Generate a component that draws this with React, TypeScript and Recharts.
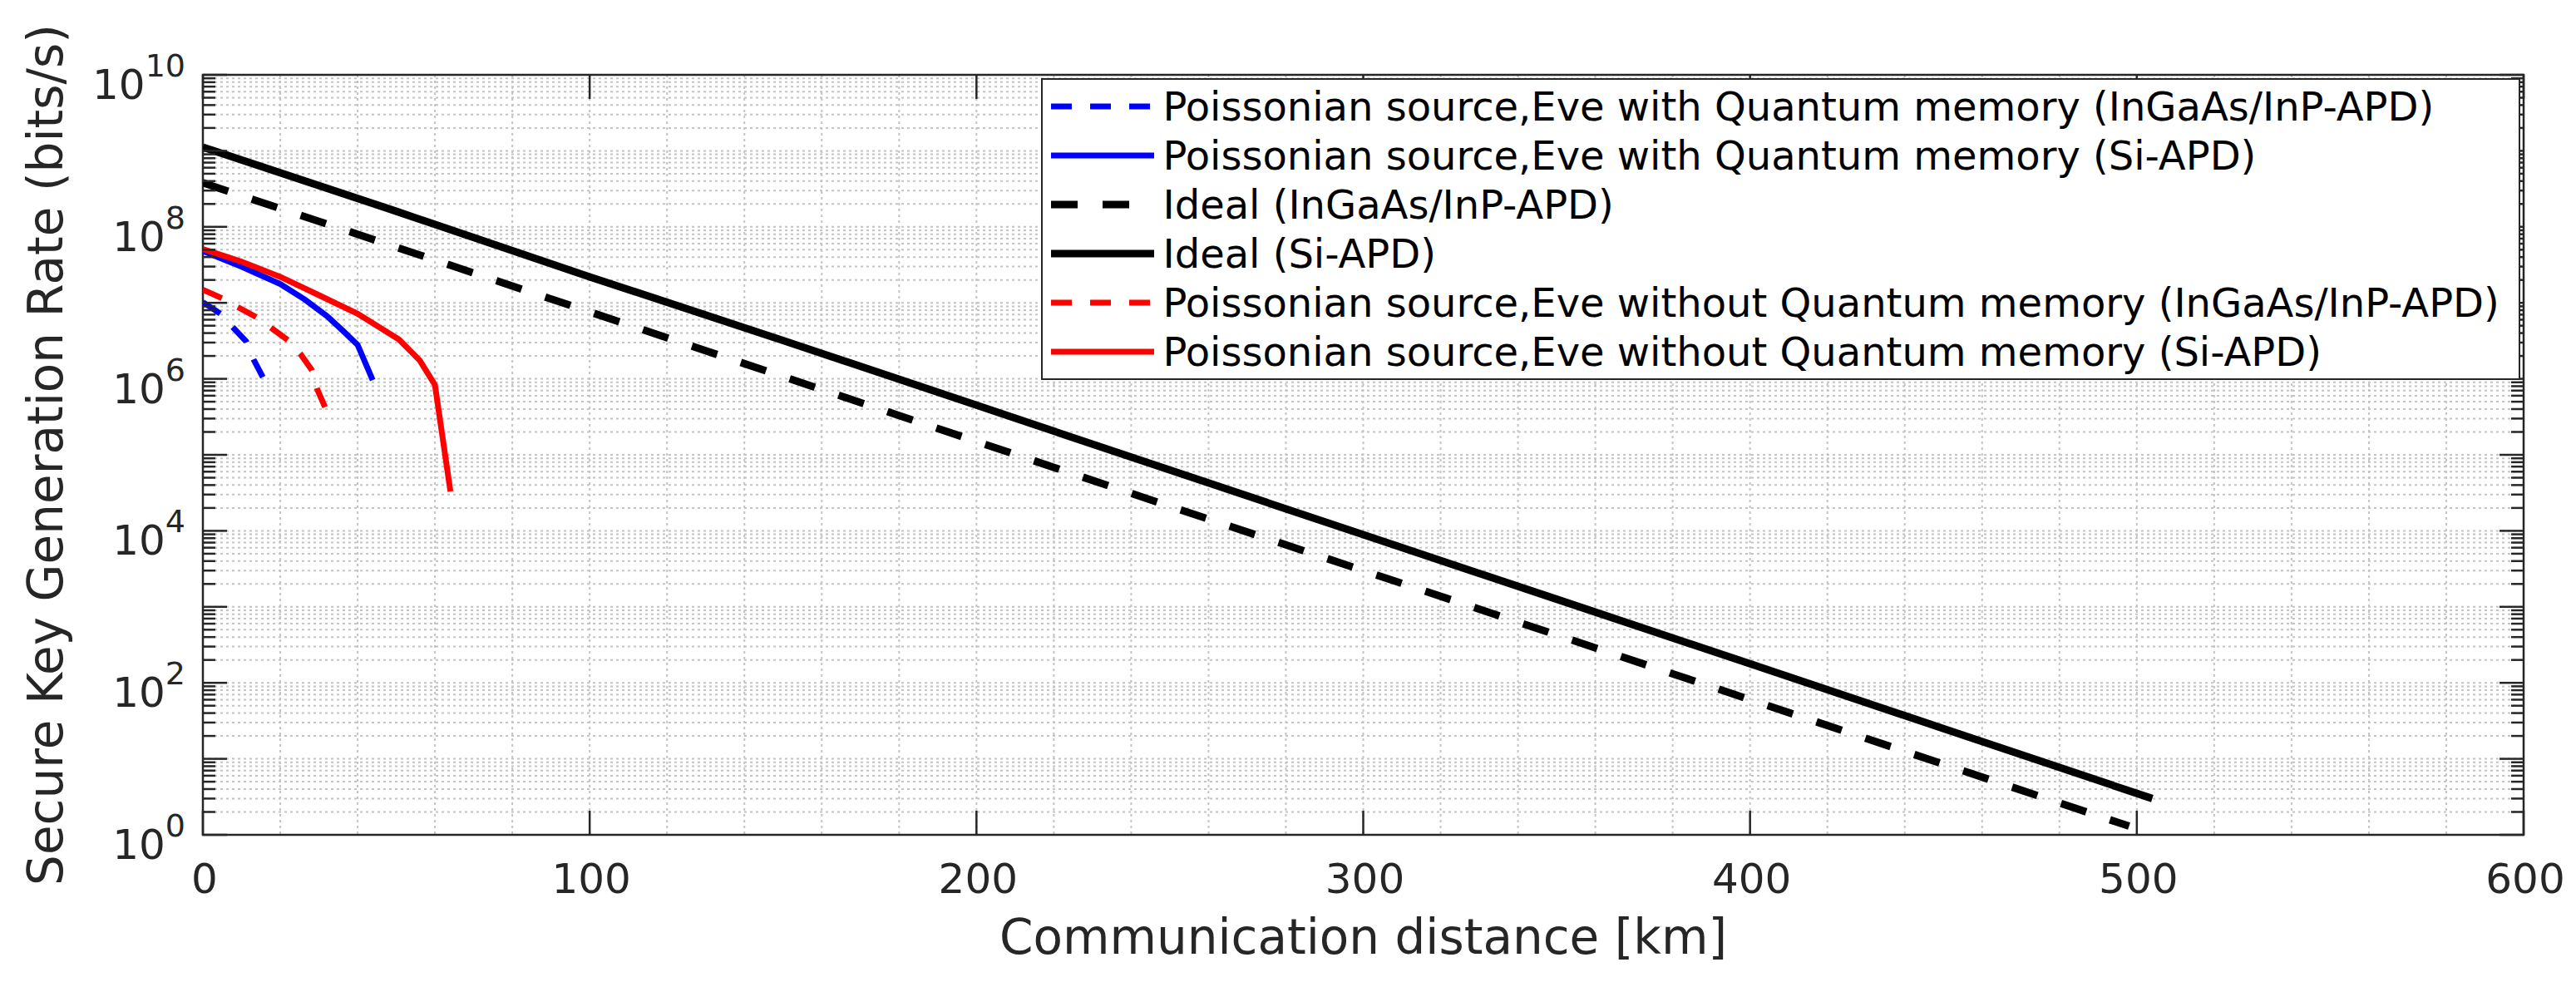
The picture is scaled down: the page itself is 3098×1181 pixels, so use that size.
import React from 'react';
import { LineChart, Line, XAxis, YAxis, CartesianGrid, Legend, ReferenceArea } from 'recharts';

const FONT = '"DejaVu Sans", sans-serif';
const AXIS_COLOR = '#262626';
const GRID_COLOR = '#c4c4c4';

// ---- data: communication distance (km) and secure key rate (bits/s) ----
const withQmInGaAsDist = [0, 4.5, 7.7, 11.2, 13.1, 15.5];
const withQmInGaAsRate = [1.02e7, 7.2e6, 4.8e6, 3.1e6, 1.8e6, 1.05e6];

const withQmSiDist = [0, 9.9, 20, 26.4, 32.1, 36.4, 40, 43.9];
const withQmSiRate = [4.8e7, 3.0e7, 1.77e7, 1.1e7, 6.7e6, 4.2e6, 2.8e6, 9.6e5];

const idealInGaAsDist = [0, 50, 100, 150, 200, 250, 300, 350, 400, 450, 498];
const idealInGaAsRate = [3.8e8, 5.4e7, 7.6e6, 1.07e6, 1.5e5, 2.1e4, 3.0e3, 427, 60, 8.5, 1.3];

const idealSiDist = [0, 50, 100, 150, 200, 250, 300, 350, 400, 450, 504];
const idealSiRate = [1.12e9, 1.6e8, 2.2e7, 3.2e6, 4.5e5, 6.3e4, 8.9e3, 1.26e3, 178, 25, 3.0];

const withoutQmInGaAsDist = [0, 4.9, 9.2, 13.8, 18.1, 22.1, 25.3, 28.2, 29.6, 31.7];
const withoutQmInGaAsRate = [1.49e7, 1.15e7, 8.7e6, 6.5e6, 4.5e6, 3.2e6, 2.1e6, 1.3e6, 7.2e5, 4.1e5];

const withoutQmSiDist = [0, 9.9, 20, 30, 40, 45, 50.7, 56.1, 60, 64];
const withoutQmSiRate = [5.1e7, 3.5e7, 2.2e7, 1.26e7, 7.2e6, 5.0e6, 3.3e6, 1.74e6, 8.3e5, 3.3e4];

// ---- ticks ----
const X_GRID_TICKS = [0, 20, 40, 60, 80, 100, 120, 140, 160, 180, 200, 220, 240, 260, 280, 300, 320, 340, 360, 380, 400, 420, 440, 460, 480, 500, 520, 540, 560, 580, 600];
const X_LABEL_TICKS = [0, 100, 200, 300, 400, 500, 600];
const Y_DECADES = [0, 1, 2, 3, 4, 5, 6, 7, 8, 9];
const Y_MANTISSAS = [1, 2, 3, 4, 5, 6, 7, 8, 9];
const Y_LABEL_EXPONENTS = [0, 2, 4, 6, 8, 10];
const Y_TICKS: number[] = [];
Y_DECADES.forEach((e) => Y_MANTISSAS.forEach((m) => Y_TICKS.push(m * Math.pow(10, e))));
Y_TICKS.push(1e10);

const zip = (d: number[], v: number[]) => d.map((x, i) => ({ d: x, v: v[i] }));

const SERIES = [
  { name: 'Poissonian source,Eve with Quantum memory (InGaAs/InP-APD)', color: '#0000ff', width: 7, dash: '25 22', data: zip(withQmInGaAsDist, withQmInGaAsRate) },
  { name: 'Poissonian source,Eve with Quantum memory (Si-APD)', color: '#0000ff', width: 7, dash: undefined, data: zip(withQmSiDist, withQmSiRate) },
  { name: 'Ideal (InGaAs/InP-APD)', color: '#000000', width: 9, dash: '32 30', data: zip(idealInGaAsDist, idealInGaAsRate) },
  { name: 'Ideal (Si-APD)', color: '#000000', width: 9, dash: undefined, data: zip(idealSiDist, idealSiRate) },
  { name: 'Poissonian source,Eve without Quantum memory (InGaAs/InP-APD)', color: '#ff0000', width: 7, dash: '25 22', data: zip(withoutQmInGaAsDist, withoutQmInGaAsRate) },
  { name: 'Poissonian source,Eve without Quantum memory (Si-APD)', color: '#ff0000', width: 7, dash: undefined, data: zip(withoutQmSiDist, withoutQmSiRate) },
];

// ---- layout ----
const W = 3098;
const H = 1181;
const PLOT_LEFT = 244;
const PLOT_TOP = 90;
const PLOT_RIGHT = 3035;
const PLOT_BOTTOM = 1004;
const PLOT_W = PLOT_RIGHT - PLOT_LEFT;
const PLOT_H = PLOT_BOTTOM - PLOT_TOP;
const Y_AXIS_W = 200;
const X_AXIS_H = 100;
const MAJOR_LEN = 29;
const MINOR_LEN = 15;
const TICK_FONT = 50;
const SUP_FONT = 38;

const YTick = (props: any) => {
  const { x, y, payload } = props;
  const v = payload.value;
  const lg = Math.log10(v);
  const e = Math.round(lg);
  const isMajor = Math.abs(lg - e) < 1e-6;
  const len = isMajor ? MAJOR_LEN : MINOR_LEN;
  const showLabel = isMajor && Y_LABEL_EXPONENTS.includes(e);
  return (
    <g>
      <line x1={x} x2={x + len} y1={y} y2={y} stroke={AXIS_COLOR} strokeWidth={2.5} />
      <line x1={x + PLOT_W - len} x2={x + PLOT_W} y1={y} y2={y} stroke={AXIS_COLOR} strokeWidth={2.5} />
      {showLabel && (
        <text x={x - 21} y={y + 29} textAnchor="end" fill={AXIS_COLOR} fontFamily={FONT} fontSize={TICK_FONT}>
          <tspan>10</tspan>
          <tspan fontSize={SUP_FONT} dy={-27}>{String(e)}</tspan>
        </text>
      )}
    </g>
  );
};

const XTick = (props: any) => {
  const { x, y, payload } = props;
  const v = payload.value;
  if (!X_LABEL_TICKS.includes(v)) return <g />;
  return (
    <g>
      <line x1={x} x2={x} y1={y} y2={y - MAJOR_LEN} stroke={AXIS_COLOR} strokeWidth={2.5} />
      <line x1={x} x2={x} y1={y - PLOT_H} y2={y - PLOT_H + MAJOR_LEN} stroke={AXIS_COLOR} strokeWidth={2.5} />
      <text x={x + 2} y={y + 70} textAnchor="middle" fill={AXIS_COLOR} fontFamily={FONT} fontSize={TICK_FONT}>
        {String(v)}
      </text>
    </g>
  );
};

const LEG_LEFT = 1252;
const LEG_TOP = 94;
const LEG_W = 3031 - 1252;
const LEG_H = 457 - 94;
const ROW_H = 59;

const renderLegend = () => (
  <div
    style={{
      position: 'relative',
      width: LEG_W,
      height: LEG_H,
      boxSizing: 'border-box',
      border: `2.5px solid ${AXIS_COLOR}`,
      background: '#ffffff',
    }}
  >
    {SERIES.map((s, i) => (
      <div
        key={s.name}
        style={{
          position: 'absolute',
          left: 9.5,
          top: 34 - 2.5 + ROW_H * i - 30,
          height: 60,
          display: 'flex',
          alignItems: 'center',
          whiteSpace: 'nowrap',
        }}
      >
        <svg width={124} height={14} style={{ display: 'block', marginRight: 11 }}>
          <line x1={0} x2={124} y1={7} y2={7} stroke={s.color} strokeWidth={s.width} strokeDasharray={s.dash} />
        </svg>
        <span style={{ fontFamily: FONT, fontSize: 48, lineHeight: '60px', color: '#000' }}>{s.name}</span>
      </div>
    ))}
  </div>
);

export default function App() {
  return (
    <div style={{ position: 'absolute', left: 0, top: 0, width: W, height: H, background: '#fff' }}>
      <LineChart
        width={W}
        height={H}
        margin={{ top: PLOT_TOP, right: W - PLOT_RIGHT, bottom: H - PLOT_BOTTOM - X_AXIS_H, left: PLOT_LEFT - Y_AXIS_W }}
      >
        <CartesianGrid stroke={GRID_COLOR} strokeWidth={2} strokeDasharray="3 4" />
        <XAxis
          dataKey="d"
          type="number"
          domain={[0, 600]}
          ticks={X_GRID_TICKS}
          interval={0}
          height={X_AXIS_H}
          tickSize={0}
          tickMargin={0}
          tickLine={false}
          axisLine={false}
          tick={<XTick />}
          allowDataOverflow
          label={() => (
            <text x={(PLOT_LEFT + PLOT_RIGHT) / 2} y={1147} textAnchor="middle" fill={AXIS_COLOR} fontFamily={FONT} fontSize={58}>
              Communication distance [km]
            </text>
          )}
        />
        <YAxis
          dataKey="v"
          type="number"
          scale="log"
          domain={[1, 1e10]}
          ticks={Y_TICKS}
          interval={0}
          width={Y_AXIS_W}
          tickSize={0}
          tickMargin={0}
          tickLine={false}
          axisLine={false}
          tick={<YTick />}
          allowDataOverflow
          label={() => (
            <text
              x={75}
              y={(PLOT_TOP + PLOT_BOTTOM) / 2}
              transform={`rotate(-90 75 ${(PLOT_TOP + PLOT_BOTTOM) / 2})`}
              textAnchor="middle"
              fill={AXIS_COLOR}
              fontFamily={FONT}
              fontSize={58}
            >
              Secure Key Generation Rate (bits/s)
            </text>
          )}
        />
        <ReferenceArea x1={0} x2={600} y1={1} y2={1e10} fill="none" stroke={AXIS_COLOR} strokeWidth={2.5} ifOverflow="visible" />
        {SERIES.map((s) => (
          <Line
            key={s.name}
            data={s.data}
            dataKey="v"
            name={s.name}
            type="linear"
            stroke={s.color}
            strokeWidth={s.width}
            strokeDasharray={s.dash}
            dot={false}
            activeDot={false}
            isAnimationActive={false}
          />
        ))}
        <Legend
          layout="vertical"
          align="center"
          verticalAlign="middle"
          content={renderLegend}
          wrapperStyle={{ position: 'absolute', left: LEG_LEFT, top: LEG_TOP, width: LEG_W, height: LEG_H, margin: 0, padding: 0 }}
        />
      </LineChart>
    </div>
  );
}
